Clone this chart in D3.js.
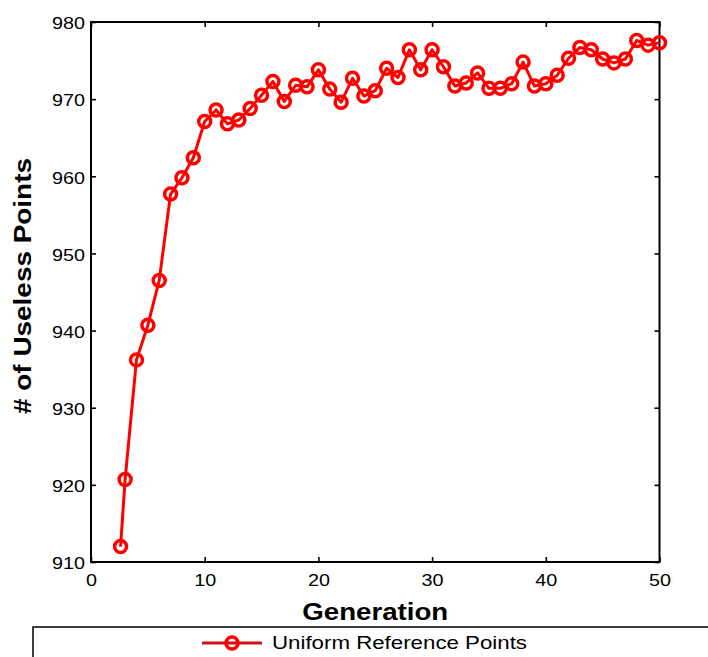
<!DOCTYPE html>
<html>
<head>
<meta charset="utf-8">
<script src="https://cdn.jsdelivr.net/npm/d3@7/dist/d3.min.js"></script>
<style>
  html, body { margin: 0; padding: 0; background: #fff; }
  svg { display: block; }
</style>
</head>
<body>
<script>
// ---- data ----
const generations = [2.6, 3, 4, 5, 6, 7, 8, 9, 10, 11, 12, 13, 14, 15, 16, 17, 18, 19, 20,
  21, 22, 23, 24, 25, 26, 27, 28, 29, 30, 31, 32, 33, 34, 35, 36, 37, 38, 39, 40,
  41, 42, 43, 44, 45, 46, 47, 48, 49, 50];
const uselessPoints = [912.0, 920.7, 936.2, 940.7, 946.5, 957.7, 959.8, 962.4, 967.1, 968.6, 966.8, 967.3, 968.8, 970.5, 972.3, 969.7, 971.8, 971.6, 973.8,
  971.3, 969.6, 972.7, 970.4, 971.1, 974.0, 972.8, 976.4, 973.8, 976.4, 974.2, 971.7, 972.1, 973.4, 971.4, 971.4, 972.0, 974.8, 971.7, 972.0,
  973.1, 975.3, 976.7, 976.4, 975.2, 974.7, 975.2, 977.6, 977.0, 977.3];
const xTicks = [0, 10, 20, 30, 40, 50];
const yTicks = [910, 920, 930, 940, 950, 960, 970, 980];
const seriesName = "Uniform Reference Points";
const xLabel = "Generation";
const yLabel = "# of Useless Points";

// ---- layout ----
const W = 708, H = 657;
const L = 91, R = 659.5, T = 22, B = 562;
const red = "#ff0000";

const svg = d3.select("body").append("svg").attr("width", W).attr("height", H)
  .style("font-family", "'Liberation Sans', Arial, sans-serif");

const x = d3.scaleLinear().domain([0, 50]).range([L, R]);
const y = d3.scaleLinear().domain([910, 980]).range([B, T]);

// axes (ticks inward)
const tickLen = 5;
const gx = svg.append("g").attr("transform", `translate(0,${B})`)
  .call(d3.axisBottom(x).tickValues(xTicks).tickSizeInner(-tickLen).tickSizeOuter(0).tickPadding(12));
const gy = svg.append("g").attr("transform", `translate(${L},0)`)
  .call(d3.axisLeft(y).tickValues(yTicks).tickSizeInner(-tickLen).tickSizeOuter(0).tickPadding(6));
const gxt = svg.append("g").attr("transform", `translate(0,${T})`)
  .call(d3.axisTop(x).tickValues(xTicks).tickSizeInner(-tickLen).tickSizeOuter(0).tickFormat(""));
const gyr = svg.append("g").attr("transform", `translate(${R},0)`)
  .call(d3.axisRight(y).tickValues(yTicks).tickSizeInner(-tickLen).tickSizeOuter(0).tickFormat(""));

[gx, gy, gxt, gyr].forEach(g => {
  g.select(".domain").remove();
  g.selectAll(".tick line").attr("stroke", "#000").attr("stroke-width", 1.6);
});
gx.selectAll(".tick text").attr("font-size", 17).attr("fill", "#000")
  .attr("dy", "0.71em")
  .each(function(d) { const s = String(d); d3.select(this).attr("textLength", s.length * 11).attr("lengthAdjust", "spacingAndGlyphs"); });
gy.selectAll(".tick text").attr("font-size", 17).attr("fill", "#000")
  .attr("dy", "0.4em")
  .each(function(d) { const s = String(d); d3.select(this).attr("textLength", s.length * 11).attr("lengthAdjust", "spacingAndGlyphs"); });

// frame
svg.append("rect").attr("x", L).attr("y", T).attr("width", R - L).attr("height", B - T)
  .attr("fill", "none").attr("stroke", "#000").attr("stroke-width", 2);

// series
const line = d3.line().x((d, i) => x(generations[i])).y(d => y(d));
svg.append("path").datum(uselessPoints).attr("d", line)
  .attr("fill", "none").attr("stroke", red).attr("stroke-width", 3).attr("stroke-linejoin", "round");
svg.append("g").selectAll("circle").data(uselessPoints).join("circle")
  .attr("cx", (d, i) => x(generations[i])).attr("cy", d => y(d)).attr("r", 6)
  .attr("fill", "none").attr("stroke", red).attr("stroke-width", 3.5);

// axis labels
svg.append("text").attr("x", (L + R) / 2 + 0).attr("y", 620).attr("text-anchor", "middle")
  .attr("font-size", 24).attr("font-weight", "bold").attr("fill", "#000")
  .attr("textLength", 146).attr("lengthAdjust", "spacingAndGlyphs").text(xLabel);
svg.append("text").attr("transform", `translate(31,${(T + B) / 2 - 6}) rotate(-90)`)
  .attr("text-anchor", "middle").attr("font-size", 24).attr("font-weight", "bold").attr("fill", "#000")
  .attr("textLength", 256).attr("lengthAdjust", "spacingAndGlyphs").text(yLabel);

// legend
const lg = svg.append("g");
lg.append("rect").attr("x", 33).attr("y", 627).attr("width", 700).attr("height", 60)
  .attr("fill", "#fff").attr("stroke", "#000").attr("stroke-width", 1.5);
lg.append("line").attr("x1", 202).attr("x2", 262).attr("y1", 643).attr("y2", 643)
  .attr("stroke", "#d01010").attr("stroke-width", 3);
lg.append("circle").attr("cx", 232).attr("cy", 643).attr("r", 6)
  .attr("fill", "none").attr("stroke", red).attr("stroke-width", 3.5);
lg.append("text").attr("x", 272).attr("y", 649).attr("font-size", 18).attr("fill", "#000")
  .attr("textLength", 255).attr("lengthAdjust", "spacingAndGlyphs").text(seriesName);
</script>
</body>
</html>
